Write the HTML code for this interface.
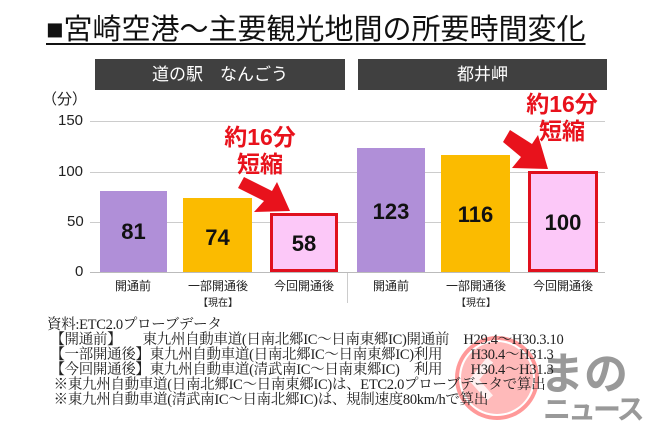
<!DOCTYPE html>
<html><head><meta charset="utf-8"><style>
body{margin:0;width:650px;height:433px;background:#fff;overflow:hidden;position:relative;font-family:"Liberation Sans","Noto Sans CJK JP",sans-serif}
.a{position:absolute;white-space:nowrap}
.bar{position:absolute;box-sizing:border-box}
.v{position:absolute;left:0;right:0;text-align:center;font-weight:bold;font-size:22px;color:#111}
.lab{position:absolute;font-size:12px;color:#222;text-align:center;width:90px}
.fn{position:absolute;left:47px;font-family:"Liberation Serif","Noto Serif CJK SC",serif;font-size:14.5px;color:#222;white-space:pre;line-height:15px;letter-spacing:-0.3px}
</style></head><body>
<div class="a" style="left:46px;top:6px;font-size:29px;color:#111;text-decoration:underline;text-decoration-thickness:2px;text-underline-offset:4px">■宮崎空港～主要観光地間の所要時間変化</div>
<div class="a" style="left:95px;top:59px;width:250px;height:31px;background:#404040;color:#fff;font-size:17px;text-align:center;line-height:31px">道の駅　なんごう</div>
<div class="a" style="left:358px;top:59px;width:249px;height:31px;background:#404040;color:#fff;font-size:17px;text-align:center;line-height:31px">都井岬</div>
<div class="a" style="left:42px;top:88px;font-size:15px;color:#222">（分）</div>
<div class="a" style="left:58px;top:112px;font-size:15px;color:#222">150</div>
<div class="a" style="left:58px;top:163px;font-size:15px;color:#222">100</div>
<div class="a" style="left:67px;top:213px;font-size:15px;color:#222">50</div>
<div class="a" style="left:75px;top:263px;font-size:15px;color:#222">0</div>
<div class="a" style="left:90px;top:121px;width:515px;height:1px;background:#ccc"></div>
<div class="a" style="left:90px;top:172px;width:515px;height:1px;background:#ccc"></div>
<div class="a" style="left:90px;top:222px;width:515px;height:1px;background:#ccc"></div>
<div class="a" style="left:90px;top:272px;width:515px;height:1px;background:#bbb"></div>
<div class="a" style="left:347px;top:273px;width:1px;height:30px;background:#ccc"></div>

<div class="bar" style="left:100px;top:191px;width:67px;height:81px;background:#b08fd8"><div class="v" style="top:28px">81</div></div>
<div class="bar" style="left:183px;top:198px;width:69px;height:74px;background:#fbbb00"><div class="v" style="top:27px">74</div></div>
<div class="bar" style="left:270px;top:213px;width:68px;height:59px;background:#fcc8f8;border:3px solid #e0101e"><div class="v" style="top:15px">58</div></div>
<div class="bar" style="left:357px;top:148px;width:68px;height:124px;background:#b08fd8"><div class="v" style="top:51px">123</div></div>
<div class="bar" style="left:441px;top:155px;width:69px;height:117px;background:#fbbb00"><div class="v" style="top:47px">116</div></div>
<div class="bar" style="left:528px;top:171px;width:70px;height:101px;background:#fcc8f8;border:3px solid #e0101e"><div class="v" style="top:36px">100</div></div>

<div class="lab" style="left:88px;top:277px">開通前</div>
<div class="lab" style="left:173px;top:277px">一部開通後<br><span style="font-size:10px">【現在】</span></div>
<div class="lab" style="left:259px;top:277px">今回開通後</div>
<div class="lab" style="left:346px;top:277px">開通前</div>
<div class="lab" style="left:431px;top:277px">一部開通後<br><span style="font-size:10px">【現在】</span></div>
<div class="lab" style="left:518px;top:277px">今回開通後</div>

<div class="a" style="left:224px;top:124px;color:#e8121c;font-size:23px;font-weight:bold;line-height:27px;text-align:center;width:72px">約16分<br>短縮</div>
<div class="a" style="left:522px;top:91px;color:#e8121c;font-size:23px;font-weight:bold;line-height:27px;text-align:center;width:80px">約16分<br>短縮</div>
<svg class="a" style="left:0;top:0" width="650" height="433">
<polygon points="238,188 244,177 272,191 277,182 290,211 254,212 264,201" fill="#e8121c"/>
<polygon points="503,142 510,130 532,144 538,135 548,169 512,168 521,157" fill="#e8121c"/>
<circle cx="497" cy="378" r="36" fill="#f66" fill-opacity="0.45"/>
<circle cx="497" cy="378" r="40" fill="none" stroke="#f55" stroke-opacity="0.6" stroke-width="4"/>
<polyline points="490,360 474,380 490,398" fill="none" stroke="#fff" stroke-width="8" stroke-opacity="0.8"/>
</svg>
<div class="a" style="left:540px;top:338px;font-size:44px;font-weight:bold;color:#888;opacity:0.85">まの</div>
<div class="a" style="left:543px;top:388px;font-size:28px;font-weight:bold;color:#888;opacity:0.85;letter-spacing:-3px">ニュース</div>

<div class="fn" style="top:318px">資料:ETC2.0プローブデータ
 【開通前】　　東九州自動車道(日南北郷IC～日南東郷IC)開通前　H29.4～H30.3.10
 【一部開通後】東九州自動車道(日南北郷IC～日南東郷IC)利用　　H30.4～H31.3
 【今回開通後】東九州自動車道(清武南IC～日南東郷IC)　利用　　H30.4～H31.3
  ※東九州自動車道(日南北郷IC～日南東郷IC)は、ETC2.0プローブデータで算出
  ※東九州自動車道(清武南IC～日南北郷IC)は、規制速度80km/hで算出</div>
</body></html>
